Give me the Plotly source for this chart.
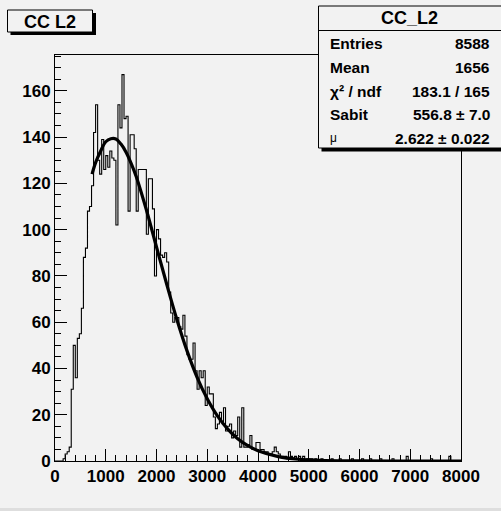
import numpy as np
import plotly.graph_objects as go

# ---------------- data ----------------
bin_width = 40
x_min, x_max = 0, 8000
counts = [
    0, 0, 0, 0, 1, 3, 4, 6, 31, 50,
    36, 53, 55, 66, 88, 92, 108, 110, 119, 142,
    154, 130, 124, 139, 126, 132, 127, 134, 131, 130,
    102, 154, 144, 167, 148, 149, 108, 141, 141, 135,
    108, 126, 126, 126, 126, 98, 122, 122, 109, 80,
    100, 96, 89, 88, 90, 86, 73, 64, 60, 62,
    62, 58, 57, 63, 54, 46, 44, 44, 51, 39,
    31, 39, 36, 39, 24, 32, 29, 29, 19, 14,
    16, 21, 17, 23, 13, 15, 16, 10, 13, 11,
    19, 6, 23, 6, 6, 7, 11, 5, 5, 8,
    8, 5, 5, 4, 4, 3, 3, 4, 6, 4,
    3, 2, 2, 2, 1, 4, 2, 1, 2, 1,
    2, 1, 2, 0, 1, 1, 1, 0, 1, 0,
    0, 1, 0, 0, 0, 0, 1, 0, 0, 0,
    1, 0, 0, 0, 0, 0, 1, 0, 0, 0,
    0, 1, 0, 0, 0, 1, 0, 0, 0, 0,
    1, 0, 0, 0, 0, 0, 1, 0, 0, 0,
    0, 0, 0, 2, 0, 0, 0, 0, 0, 0,
    0, 0, 0, 0, 0, 1, 0, 0, 0, 0,
    0, 0, 0, 0, 2, 0, 0, 0, 0, 0,
]
fit_x = [730, 800, 900, 1000, 1100, 1200, 1300, 1400, 1500, 1600, 1800, 2000,
         2200, 2400, 2600, 2800, 3000, 3200, 3400, 3600, 3800, 4000, 4400,
         4800, 5200, 6000, 7000, 8000]
fit_y = [124, 129, 134, 138, 139.3, 139.2, 137, 133.5, 128.7, 123, 108.6, 92.5,
         76.5, 61.3, 47.7, 36.2, 26.9, 19.5, 13.9, 9.6, 6.6, 4.4, 1.9,
         0.75, 0.28, 0.03, 0, 0]
x_ticks = [0, 1000, 2000, 3000, 4000, 5000, 6000, 7000, 8000]
y_ticks = [0, 20, 40, 60, 80, 100, 120, 140, 160]
y_max = 175.5

hist_title = "CC L2"
stats_name = "CC_L2"
stats_labels = ["Entries", "Mean", "χ² / ndf", "Sabit", "μ"]
stats_values = ["8588", "1656", "183.1 / 165", "556.8 ± 7.0", "2.622 ± 0.022"]

# ---------------- figure ----------------
W, H = 501, 511
L, R, T, B = 55, 40, 55, 50
pw, ph = W - L - R, H - T - B
BG = "#f2f2f2"
FONT = "Liberation Sans"


def px(x):
    return (x - L) / pw


def py(y):
    return (H - B - y) / ph


edges = np.arange(x_min, x_max + bin_width, bin_width)
hy = list(counts) + [counts[-1]]

fig = go.Figure()
fig.add_trace(go.Scatter(
    x=edges, y=hy, mode="lines",
    line=dict(shape="hv", color="#000000", width=1.1),
    hoverinfo="skip", showlegend=False))
fig.add_trace(go.Scatter(
    x=fit_x, y=fit_y, mode="lines",
    line=dict(shape="spline", color="black", width=3.2),
    hoverinfo="skip", showlegend=False))

tickfont = dict(family=FONT, size=17, color="black", weight="bold")
fig.update_xaxes(
    range=[x_min, x_max], tickvals=x_ticks, ticks="inside", ticklen=12,
    tickwidth=1, tickcolor="black", showline=True, linecolor="black",
    linewidth=1, mirror=True, showgrid=False, zeroline=False,
    tickfont=tickfont,
    minor=dict(dtick=200, ticklen=6, ticks="inside", tickcolor="black",
               tickwidth=1, showgrid=False))
fig.update_yaxes(
    range=[0, y_max], tickvals=y_ticks, ticks="inside", ticklen=12,
    tickwidth=1, tickcolor="black", showline=True, linecolor="black",
    linewidth=1, mirror=True, showgrid=False, zeroline=False,
    tickfont=tickfont,
    minor=dict(dtick=5, ticklen=6, ticks="inside", tickcolor="black",
               tickwidth=1, showgrid=False))

shapes = []
# title box with shadow
shapes.append(dict(type="rect", xref="paper", yref="paper",
                   x0=px(10.5), x1=px(96), y0=py(35), y1=py(13),
                   fillcolor="black", line=dict(width=0)))
shapes.append(dict(type="rect", xref="paper", yref="paper",
                   x0=px(7.5), x1=px(92.5), y0=py(32), y1=py(10),
                   fillcolor=BG, line=dict(color="black", width=1)))
# stats box with shadow
shapes.append(dict(type="rect", xref="paper", yref="paper",
                   x0=px(321.5), x1=px(506), y0=py(151.5), y1=py(9),
                   fillcolor="black", line=dict(width=0)))
shapes.append(dict(type="rect", xref="paper", yref="paper",
                   x0=px(318.5), x1=px(506), y0=py(148), y1=py(6),
                   fillcolor=BG, line=dict(color="black", width=1)))
shapes.append(dict(type="line", xref="paper", yref="paper",
                   x0=px(318.5), x1=px(506), y0=py(30.5), y1=py(30.5),
                   line=dict(color="black", width=1)))
# bottom page strip
shapes.append(dict(type="rect", xref="paper", yref="paper",
                   x0=px(-2), x1=px(503), y0=py(513), y1=py(508),
                   fillcolor="#dedede", line=dict(width=0)))

annotations = []
annotations.append(dict(text=hist_title, xref="paper", yref="paper",
                        x=px(50), y=py(22), xanchor="center", yanchor="middle",
                        showarrow=False,
                        font=dict(family=FONT, size=18, color="black", weight="bold")))
annotations.append(dict(text=stats_name, xref="paper", yref="paper",
                        x=px(409.5), y=py(18), xanchor="center", yanchor="middle",
                        showarrow=False,
                        font=dict(family=FONT, size=18, color="black", weight="bold")))
row_y = [43.5, 67.5, 91, 114.5, 138]
for lab, val, yy in zip(stats_labels, stats_values, row_y):
    annotations.append(dict(text=lab, xref="paper", yref="paper",
                            x=px(328), y=py(yy), xanchor="left", yanchor="middle",
                            showarrow=False,
                            font=dict(family=FONT, size=15.5 if lab != "μ" else 12,
                                      color="black",
                                      weight="bold" if lab != "μ" else "normal")))
    annotations.append(dict(text=val, xref="paper", yref="paper",
                            x=px(492), y=py(yy), xanchor="right", yanchor="middle",
                            showarrow=False,
                            font=dict(family=FONT, size=15.5, color="black",
                                      weight="bold")))

fig.update_layout(
    width=W, height=H,
    margin=dict(l=L, r=R, t=T, b=B, pad=0),
    paper_bgcolor=BG, plot_bgcolor=BG,
    shapes=shapes, annotations=annotations,
    showlegend=False,
)

fig.write_html(
    "out.html",
    config={"displayModeBar": False, "staticPlot": True},
    post_script="document.body.style.margin='0';document.body.style.overflow='hidden';",
)
